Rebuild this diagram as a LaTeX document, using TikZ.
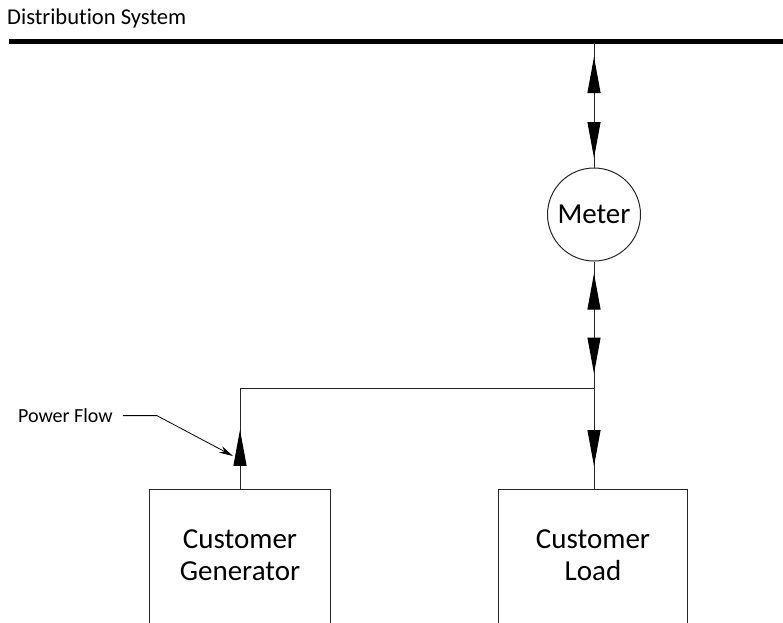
\documentclass[tikz,border=0pt]{standalone}
\usepackage{fontspec}
\setmainfont{Carlito}[Ligatures=NoCommon]
\usetikzlibrary{arrows.meta,decorations.markings}

\tikzset{
  fat/.tip={Triangle[length=36pt,width=13pt]},
}

\begin{document}
\begin{tikzpicture}
    [%%%%%%%%%%%%%%%%%%%%%%%%%%%%%%
        x=1pt, y=-1pt,
        wire/.style={draw=black!85, line width=1pt},
        bus/.style={draw=black, line width=5pt},
        smalltext/.style={font=\fontsize{20pt}{24pt}\selectfont, inner sep=0pt},
        unit/.style={font=\fontsize{29pt}{32pt}\selectfont, align=center, minimum height=130pt, inner sep=0pt},
        meterbox/.style={circle, draw=black!85, line width=1pt, minimum size=93pt, inner sep=0pt, font=\fontsize{29pt}{32pt}\selectfont},
        twoway/.style 2 args={postaction={decorate}, decoration={markings,
            mark=at position #1 with {\arrowreversed[black]{fat}},
            mark=at position #2 with {\arrow[black]{fat}}}},
        oneway/.style={postaction={decorate}, decoration={markings,
            mark=at position #1 with {\arrow[black]{fat}}}}
    ]%%%%%%%%%%%%%%%%%%%%%%%%%%%%%%

  \useasboundingbox (0,0) rectangle (783,622);

  % bus and text
  \node[smalltext, font=\fontsize{22.6pt}{26pt}\selectfont, anchor=base west] (dist) at (7,24) {Distribution System};
  \coordinate (busW) at (9,41.5);
  \coordinate (busE) at (790,41.5);
  \coordinate (tap) at (594,41.5);
  \draw[bus] (busW) -- (busE);

  % meter and units
  \node[meterbox] (meter) at (594,214.5) {Meter};
  \node[unit, minimum width=180pt] (gen) at (240,555) {Customer\\Generator};
  \node[unit, minimum width=188pt] (load) at (593,555) {Customer\\Load};
  \coordinate (junc) at (594,388);

  \draw[wire] ([yshift=-10pt]gen.south west) -- (gen.north west) -- (gen.north east) -- ([yshift=-10pt]gen.south east);
  \draw[wire] ([yshift=-10pt]load.south west) -- (load.north west) -- (load.north east) -- ([yshift=-10pt]load.south east);

  % connections
  \draw[wire, twoway={15.5pt}{116.5pt}] (tap) -- (meter.north);
  \draw[wire, twoway={12pt}{112pt}] (meter.south) -- (junc);
  \draw[wire, oneway=78pt] (junc) -- (junc |- load.north);
  \draw[wire, oneway=60pt] (gen.north) |- (junc);

  % power flow label
  \node[smalltext, anchor=base west] (pflow) at (18,422.5) {Power Flow};
  \coordinate (pftip) at (233,456);
  \draw[line width=0.8pt, -{Stealth[length=14pt,width=7pt]}] ([xshift=10pt]pflow.east) -- ++(34,0) -- (pftip);

\end{tikzpicture}
\end{document}
